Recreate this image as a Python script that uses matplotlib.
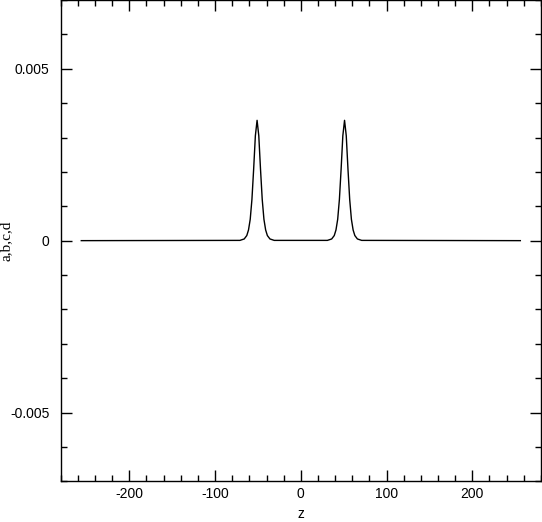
import matplotlib
matplotlib.use("Agg")
import matplotlib.pyplot as plt
from matplotlib.ticker import MultipleLocator, FixedLocator

# Data: flat baseline with two narrow pulses
z_start, z_end = -256, 256
peak_centers = [-51, 51]
offsets = [-20, -15, -12, -10, -8, -6, -4, -2, 0, 2, 4, 6, 8, 10, 12, 15, 20]
pulse_vals = [0.0000074, 0.000049, 0.000148, 0.00031, 0.00062, 0.0012, 0.00208, 0.00305, 0.0035,
              0.00305, 0.00208, 0.0012, 0.00062, 0.00031, 0.000148, 0.000049, 0.0000074]
x_ticks = [-200, -100, 0, 100, 200]
x_ticklabels = ['-200', '-100', '0', '100', '200']
y_ticks = [-0.005, 0, 0.005]
y_ticklabels = ['-0.005', '0', '0.005']

xs = [z_start]
ys = [0.0]
for c in peak_centers:
    for o, v in zip(offsets, pulse_vals):
        xs.append(c + o)
        ys.append(v)
xs.append(z_end)
ys.append(0.0)

plt.rcParams['font.family'] = ['Liberation Sans', 'DejaVu Sans']
fig = plt.figure(figsize=(5.42, 5.22), dpi=100)
ax = fig.add_axes([0.112, 0.078, 0.886, 0.922])
ax.plot(xs, ys, color='black', lw=1.0)

ax.set_xlim(-280, 280)
ax.set_ylim(-0.007, 0.007)
ax.xaxis.set_major_locator(FixedLocator(x_ticks))
ax.xaxis.set_minor_locator(MultipleLocator(20))
ax.yaxis.set_major_locator(FixedLocator(y_ticks))
ax.yaxis.set_minor_locator(MultipleLocator(0.001))
ax.set_xticklabels(x_ticklabels)
ax.set_yticklabels(y_ticklabels)
ax.tick_params(which='both', direction='in', top=True, right=True, width=1.0, labelsize=10)
ax.tick_params(which='major', length=8)
ax.tick_params(axis='y', which='major', pad=8)
ax.tick_params(axis='x', which='major', pad=4)
ax.tick_params(which='minor', length=4.5)
for s in ax.spines.values():
    s.set_linewidth(1.0)
ax.set_xlabel('z', fontsize=10)
ax.xaxis.set_label_coords(0.5, -0.053)
ax.set_ylabel('a,b,c,d', fontsize=11, family=['Liberation Serif'])
ax.yaxis.set_label_coords(-0.101, 0.5)
fig.savefig('out.png', dpi=100)
